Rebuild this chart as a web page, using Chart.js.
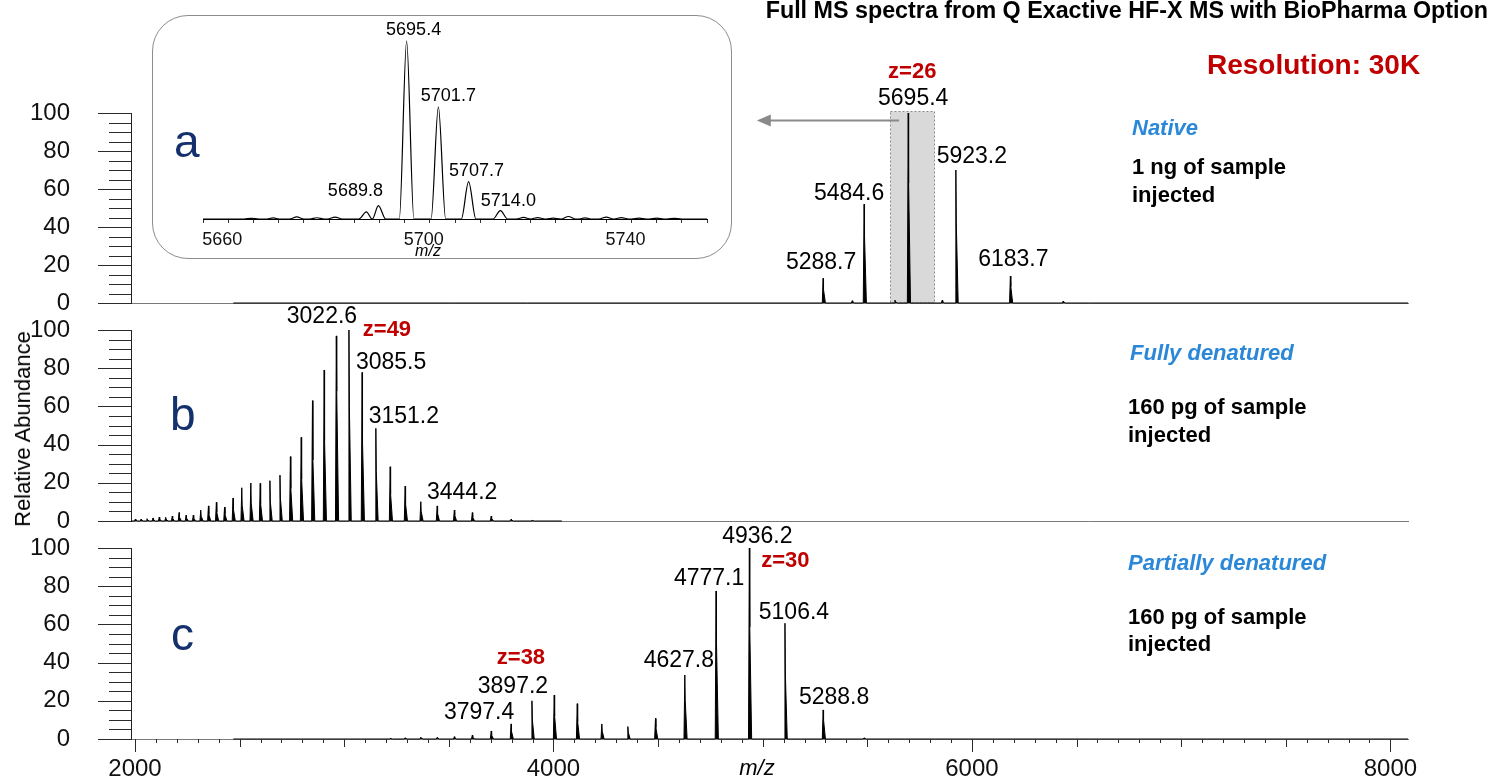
<!DOCTYPE html>
<html>
<head>
<meta charset="utf-8">
<title>Full MS spectra</title>
<script src="https://cdn.jsdelivr.net/npm/chart.js@4.4.1/dist/chart.umd.min.js"></script>
<style>
    body { margin: 0; background: #fff; font-family: "Liberation Sans", Arial, sans-serif; }
    #page { position: relative; width: 1490px; height: 779px; overflow: hidden; }
    #page canvas { position: absolute; left: 0; top: 0; }
    #inset-frame { position: absolute; left: 152px; top: 15px; width: 578px; height: 242px;
                   border: 1px solid #8c8c8c; border-radius: 36px; }
    .note { position: absolute; white-space: nowrap; line-height: 1; transform: translateY(-50%); color: #000; }
    .bold { font-weight: bold; }
    .cond { font-weight: bold; font-style: italic; color: #2b88d8; font-size: 22px; }
    .info { font-weight: bold; font-size: 22px; }
    .letter { font-size: 46px; color: #14306d; }
</style>
</head>
<body>
<div id="page">
    <div id="inset-frame"></div>
    <canvas id="native-chart" width="1490" height="779"></canvas>
    <canvas id="full-chart" width="1490" height="779"></canvas>
    <canvas id="partial-chart" width="1490" height="779"></canvas>
    <canvas id="inset-chart" width="1490" height="779"></canvas>

    <div class="note bold" style="right: 2px; top: 11px; font-size: 23.3px;">Full MS spectra from Q Exactive HF-X MS with BioPharma Option</div>
    <div class="note bold" style="left: 1207px; top: 65px; font-size: 28px; color: #c00000;">Resolution: 30K</div>

    <div class="note cond" style="left: 1132px; top: 128px;">Native</div>
    <div class="note info" style="left: 1132px; top: 167px;">1 ng of sample</div>
    <div class="note info" style="left: 1132px; top: 195px;">injected</div>

    <div class="note cond" style="left: 1130px; top: 353px;">Fully denatured</div>
    <div class="note info" style="left: 1128px; top: 407px;">160 pg of sample</div>
    <div class="note info" style="left: 1128px; top: 435px;">injected</div>

    <div class="note cond" style="left: 1128px; top: 563px;">Partially denatured</div>
    <div class="note info" style="left: 1128px; top: 617px;">160 pg of sample</div>
    <div class="note info" style="left: 1128px; top: 644px;">injected</div>

    <div class="note letter" style="left: 174px; top: 141px;">a</div>
    <div class="note letter" style="left: 170px; top: 414px;">b</div>
    <div class="note letter" style="left: 171px; top: 634px;">c</div>

    <div class="note" style="left: 23px; top: 429px; font-size: 22px; transform: translate(-50%, -50%) rotate(-90deg);">Relative Abundance</div>
    <div class="note" style="left: 757px; top: 768px; font-size: 22px; font-style: italic; transform: translate(-50%, -50%);">m/z</div>
    <div class="note" style="left: 428px; top: 251px; font-size: 16px; font-style: italic; transform: translate(-50%, -50%);">m/z</div>
</div>

<script>
// Shared m/z axis and abundance axis
var mzMin = 1981;
var mzMax = 8084;
var mzTickLabels = [2000, 4000, 6000, 8000];
var abundanceMax = 100;
var abundanceStep = 20;

// (a) Native, 1 ng injected
var nativeRange    = [2470, 8084];
var nativeMz       = [5288.7, 5428, 5484.6, 5632, 5695.4, 5858, 5923.2, 6183.7, 6436];
var nativeTop      = [13, 1.2, 52, 1.5, 100, 1.5, 70, 14.2, 1];
var nativeShoulder = [7, 0.6, 35, 0.8, 63, 0.8, 42, 8.6, 0.5];
var nativeLabels   = ['5288.7', '5484.6', '5695.4', '5923.2', '6183.7'];
var nativeCharge   = ['z=26', '5695.4'];
var zoomWindowMz   = [5608, 5818];

// (b) Fully denatured, 160 pg injected
var fullRange    = [1981, 4040];
var fullMz       = [2001.8, 2029.2, 2057.4, 2086.3, 2116.1, 2146.8, 2178.3, 2210.8, 2244.3, 2278.8,
                    2314.4, 2351.1, 2389.0, 2428.2, 2468.6, 2510.5, 2553.7, 2598.5, 2644.9, 2693.0,
                    2742.8, 2794.5, 2848.3, 2904.1, 2962.2, 3022.6, 3085.5, 3151.2, 3219.7, 3291.2,
                    3366.0, 3444.2, 3526.2, 3612.2, 3702.5, 3797.4, 3897.3];
var fullTop      = [1, 1, 1.2, 1.6, 2.1, 1.9, 2.6, 4.4, 3, 3.1,
                    5.7, 7.9, 9.8, 7.3, 12, 17.4, 19.9, 19.7, 21.1, 24,
                    33.7, 43.8, 63, 79, 96.9, 100, 77.8, 48.5, 28.4, 18.3,
                    10.1, 7.9, 5.7, 4.4, 2.6, 0.9, 0.5];
var fullShoulder = [0.5, 0.5, 0.6, 0.8, 1, 1, 1.3, 2, 1.5, 1.5,
                    2.5, 3.5, 4.5, 3.5, 6, 8, 9, 9, 10, 12,
                    17, 22, 32, 42, 68, 60, 41, 26, 14, 9,
                    5, 4, 3, 2, 1.3, 0.5, 0.3];
var fullLabels   = ['3022.6', '3085.5', '3151.2', '3444.2'];
var fullCharge   = ['z=49', '3022.6'];

// (c) Partially denatured, 160 pg injected
var partialRange    = [2470, 8084];
var partialMz       = [3219.7, 3291.2, 3366.0, 3444.2, 3526.2, 3612.2, 3702.5, 3797.4, 3897.2, 4003.6,
                       4113.7, 4231.2, 4355.6, 4487.6, 4627.8, 4777.1, 4936.2, 5106.4, 5288.8, 5484.6];
var partialTop      = [0.4, 0.6, 0.9, 0.8, 1.2, 2, 4.2, 7.9, 20, 23,
                       18.5, 7.9, 6.5, 10.8, 33.5, 77.5, 100, 60.6, 15.2, 0.6];
var partialShoulder = [0.2, 0.3, 0.5, 0.4, 0.6, 1, 2, 4, 10, 12,
                       9, 4, 3.5, 6, 20, 50.6, 58.7, 33.5, 10, 0.3];
var partialLabels   = ['3797.4', '3897.2', '4627.8', '4777.1', '4936.2', '5106.4', '5288.8'];
var partialCharges  = [['z=38', '3897.2'], ['z=30', '4936.2']];

// Inset: zoom on the z=26 peak of the native spectrum
var insetRange      = [5655, 5755];
var insetTickLabels = [5660, 5700, 5740];
var insetMz         = [5664.6, 5668.9, 5673.6, 5677.6, 5681.2, 5687.4, 5689.8, 5695.4, 5701.7, 5707.7,
                       5714.0, 5718.6, 5721.4, 5724.5, 5727.5, 5730.8, 5735.0, 5738.0, 5741.5, 5745.0, 5748.5];
var insetTop        = [0.4, 0.6, 1.2, 0.7, 1.1, 4.0, 7.5, 100, 63, 21,
                       4.7, 0.9, 0.8, 0.5, 1.4, 0.6, 1.1, 0.8, 0.5, 0.5, 0.4];
var insetLabels     = ['5689.8', '5695.4', '5701.7', '5707.7', '5714.0'];


// Look and layout
var FONT = '"Liberation Sans", Arial, sans-serif';
var STICK = { lead: 4, shoulder: 2, tail: 11 };   // peak shape, in m/z
var INSET_HALF_WIDTH = 1.45;
var LABEL_FONT = '23px ' + FONT;
var CHARGE_FONT = 'bold 22px ' + FONT;
var INSET_FONT = '18px ' + FONT;

// pixel offsets of each label from its peak apex
var labelOffsets = {
    '5288.7': [-2, -16], '5484.6': [-15, -11], '5695.4': [5, -14], '5923.2': [16, -13], '6183.7': [3, -16],
    'z=26': [4, -41],
    '3022.6': [-27, -13], '3085.5': [29, -10], '3151.2': [28, -12], '3444.2': [25, -13], 'z=49': [38, 0],
    '3797.4': [-32, -11], '3897.2': [-19, -14], '4627.8': [-6, -14], '4777.1': [-7, -12],
    '4936.2': [8, -11], '5106.4': [9, -11], '5288.8': [11, -12], 'z=38': [-11, -43], 'z=30': [36, 13]
};
var insetOffsets = {
    '5689.8': [-23, -15], '5695.4': [7, -11], '5701.7': [10, -11], '5707.7': [8, -11], '5714.0': [8, -10]
};

Chart.defaults.font.family = FONT;
Chart.defaults.color = '#111';


// Build the line for a stick spectrum: foot, apex, shoulder, tail for each peak
function stickPoints(range, mz, top, shoulder) {
    var pts = [{ x: range[0], y: 0 }];
    for (var i = 0; i < mz.length; i++) {
        pts.push({ x: mz[i] - STICK.lead, y: 0 });
        pts.push({ x: mz[i], y: top[i] });
        pts.push({ x: mz[i] + STICK.shoulder, y: shoulder[i] });
        pts.push({ x: mz[i] + STICK.tail, y: 0 });
    }
    pts.push({ x: range[1], y: 0 });
    return pts;
}

// Profile line for the inset, smoothed by the library.
// Feet of close neighbours meet half way so the points stay in order.
function profilePoints(range, mz, top) {
    var pts = [{ x: range[0], y: 0 }];
    for (var i = 0; i < mz.length; i++) {
        var left = mz[i] - INSET_HALF_WIDTH;
        var right = mz[i] + INSET_HALF_WIDTH;
        if (i > 0) left = Math.max(left, (mz[i - 1] + mz[i]) / 2);
        if (i < mz.length - 1) right = Math.min(right, (mz[i] + mz[i + 1]) / 2);
        pts.push({ x: left, y: 0 });
        pts.push({ x: mz[i], y: top[i] });
        pts.push({ x: right, y: 0 });
    }
    pts.push({ x: range[1], y: 0 });
    return pts;
}

// Find the apex of a labelled peak
function apexOf(text, mz, top) {
    var v = parseFloat(text);
    for (var i = 0; i < mz.length; i++) {
        if (Math.abs(mz[i] - v) < 0.2) return { x: mz[i], y: top[i] };
    }
    return { x: v, y: 0 };
}

function labelItems(labels, charges, mz, top, offsets, font) {
    var items = [];
    labels.forEach(function(text) {
        var a = apexOf(text, mz, top);
        var o = offsets[text];
        items.push({ text: text, x: a.x, y: a.y, dx: o[0], dy: o[1], font: font, color: '#000' });
    });
    charges.forEach(function(c) {
        var a = apexOf(c[1], mz, top);
        var o = offsets[c[0]];
        items.push({ text: c[0], x: a.x, y: a.y, dx: o[0], dy: o[1], font: CHARGE_FONT, color: '#c00000' });
    });
    return items;
}


// Peak labels, placed from the chart's own scales
var peakLabels = {
    id: 'peakLabels',
    afterDatasetsDraw: function(chart, args, opts) {
        if (!opts.items) return;
        var ctx = chart.ctx, xs = chart.scales.x, ys = chart.scales.y;
        ctx.save();
        ctx.textAlign = 'center';
        ctx.textBaseline = 'middle';
        opts.items.forEach(function(it) {
            ctx.font = it.font;
            ctx.fillStyle = it.color;
            ctx.fillText(it.text, xs.getPixelForValue(it.x) + it.dx, ys.getPixelForValue(it.y) + it.dy);
        });
        ctx.restore();
    }
};

// Major and minor tick marks, plus the m/z tick labels on the bottom panel
var tickMarks = {
    id: 'tickMarks',
    afterDraw: function(chart, args, opts) {
        var ctx = chart.ctx;
        ctx.save();
        ctx.strokeStyle = '#2a2a2a';
        ctx.lineWidth = 1;
        ctx.beginPath();
        if (opts.y) {
            var ys = chart.scales.y;
            for (var v = 0; v <= abundanceMax; v += 5) {
                var py = Math.round(ys.getPixelForValue(v)) + 0.5;
                var len = v % abundanceStep === 0 ? 33 : 22;
                ctx.moveTo(ys.right - len, py);
                ctx.lineTo(ys.right, py);
            }
        }
        var xs = chart.scales.x;
        if (opts.x) {
            for (var m = 2000; m <= 8000; m += 100) {
                var px = Math.round(xs.getPixelForValue(m)) + 0.5;
                var l = m % 2000 === 0 ? 13 : (m % 500 === 0 ? 8 : 4);
                ctx.moveTo(px, xs.bottom);
                ctx.lineTo(px, xs.bottom + l);
            }
        }
        ctx.stroke();
        if (opts.x) {
            ctx.fillStyle = '#111';
            ctx.font = '24px ' + FONT;
            ctx.textAlign = 'center';
            ctx.textBaseline = 'middle';
            mzTickLabels.forEach(function(t) {
                ctx.fillText(String(t), xs.getPixelForValue(t), xs.bottom + 30);
            });
        }
        ctx.restore();
    }
};

// Shaded zoom window and arrow pointing to the inset
var zoomWindow = {
    id: 'zoomWindow',
    beforeDatasetsDraw: function(chart, args, opts) {
        if (!opts.from) return;
        var ctx = chart.ctx, xs = chart.scales.x, ys = chart.scales.y;
        var l = Math.round(xs.getPixelForValue(opts.from)) + 0.5;
        var r = Math.round(xs.getPixelForValue(opts.to)) + 0.5;
        var t = Math.round(ys.getPixelForValue(opts.top)) + 0.5;
        var b = Math.round(ys.getPixelForValue(0));
        ctx.save();
        ctx.fillStyle = '#d9d9d9';
        ctx.fillRect(l, t, r - l, b - t);
        ctx.strokeStyle = '#8a8a8a';
        ctx.setLineDash([2, 2]);
        ctx.strokeRect(l, t, r - l, b - t);
        ctx.restore();
    },
    afterDatasetsDraw: function(chart, args, opts) {
        if (!opts.from) return;
        var ctx = chart.ctx, xs = chart.scales.x, ys = chart.scales.y;
        var x0 = xs.getPixelForValue(opts.arrowFrom);
        var x1 = xs.getPixelForValue(opts.arrowTo);
        var y = Math.round(ys.getPixelForValue(opts.arrowAt)) + 0.5;
        ctx.save();
        ctx.strokeStyle = '#8a8a8a';
        ctx.fillStyle = '#8a8a8a';
        ctx.lineWidth = 2;
        ctx.beginPath();
        ctx.moveTo(x0, y);
        ctx.lineTo(x1 + 12, y);
        ctx.stroke();
        ctx.beginPath();
        ctx.moveTo(x1, y);
        ctx.lineTo(x1 + 14, y - 6);
        ctx.lineTo(x1 + 14, y + 6);
        ctx.closePath();
        ctx.fill();
        ctx.restore();
    }
};


function makePanel(canvasId, points, padding, withAxis, items, windowOpts) {
    return new Chart(document.getElementById(canvasId), {
        type: 'line',
        data: {
            datasets: [{
                data: points,
                borderColor: '#000',
                backgroundColor: '#000',
                borderWidth: 1,
                pointRadius: 0,
                fill: 'origin',
                tension: 0,
                clip: false
            }]
        },
        options: {
            responsive: false,
            animation: false,
            devicePixelRatio: 1,
            events: [],
            layout: { padding: padding },
            plugins: {
                legend: { display: false },
                tooltip: { enabled: false },
                peakLabels: { items: items },
                tickMarks: { y: true, x: withAxis },
                zoomWindow: windowOpts || {}
            },
            scales: {
                x: {
                    type: 'linear',
                    min: mzMin,
                    max: mzMax,
                    grid: { display: false },
                    border: { color: '#7a7a7a', width: 1 },
                    ticks: { display: false },
                    afterFit: function(s) { s.height = 0; }
                },
                y: {
                    min: 0,
                    max: abundanceMax,
                    grid: { display: false },
                    border: { color: '#222', width: 1 },
                    ticks: {
                        stepSize: abundanceStep,
                        font: { size: 24 },
                        padding: 53,
                        callback: function(v) { return String(v); }
                    },
                    afterFit: function(s) {
                        // keep the plot area exactly where the layout padding puts it
                        s.width = 131;
                        s.paddingTop = 0;
                        s.paddingBottom = 0;
                    }
                }
            }
        },
        plugins: [zoomWindow, peakLabels, tickMarks]
    });
}

// (a) native
makePanel('native-chart',
    stickPoints(nativeRange, nativeMz, nativeTop, nativeShoulder),
    { left: 0, right: 82, top: 113, bottom: 476 },
    false,
    labelItems(nativeLabels, [nativeCharge], nativeMz, nativeTop, labelOffsets, LABEL_FONT),
    { from: zoomWindowMz[0], to: zoomWindowMz[1], top: 101.2, arrowFrom: 5652, arrowTo: 4972, arrowAt: 96.3 });

// (b) fully denatured
makePanel('full-chart',
    stickPoints(fullRange, fullMz, fullTop, fullShoulder),
    { left: 0, right: 82, top: 330, bottom: 258 },
    false,
    labelItems(fullLabels, [fullCharge], fullMz, fullTop, labelOffsets, LABEL_FONT));

// (c) partially denatured, carries the m/z axis
makePanel('partial-chart',
    stickPoints(partialRange, partialMz, partialTop, partialShoulder),
    { left: 0, right: 82, top: 548, bottom: 40 },
    true,
    labelItems(partialLabels, partialCharges, partialMz, partialTop, labelOffsets, LABEL_FONT));

// Inset
new Chart(document.getElementById('inset-chart'), {
    type: 'line',
    data: {
        datasets: [{
            data: profilePoints(insetRange, insetMz, insetTop),
            borderColor: '#000',
            borderWidth: 1.2,
            pointRadius: 0,
            fill: false,
            cubicInterpolationMode: 'monotone',
            clip: false
        }]
    },
    options: {
        responsive: false,
        animation: false,
        devicePixelRatio: 1,
        events: [],
        layout: { padding: { left: 203, right: 783, top: 41, bottom: 0 } },
        plugins: {
            legend: { display: false },
            tooltip: { enabled: false },
            peakLabels: { items: labelItems(insetLabels, [], insetMz, insetTop, insetOffsets, INSET_FONT) }
        },
        scales: {
            x: {
                type: 'linear',
                min: insetRange[0],
                max: insetRange[1],
                grid: { drawOnChartArea: false, drawTicks: true, tickLength: 4, color: '#333' },
                border: { color: '#000', width: 1 },
                ticks: {
                    stepSize: 5,
                    font: { size: 18 },
                    padding: 6,
                    labelOffset: -6,
                    maxRotation: 0,
                    autoSkip: false,
                    callback: function(v) { return insetTickLabels.indexOf(v) >= 0 ? String(v) : ''; }
                },
                afterFit: function(s) { s.height = 779 - 219; }
            },
            y: { display: false, min: 0, max: 100 }
        }
    },
    plugins: [peakLabels]
});
</script>
</body>
</html>
